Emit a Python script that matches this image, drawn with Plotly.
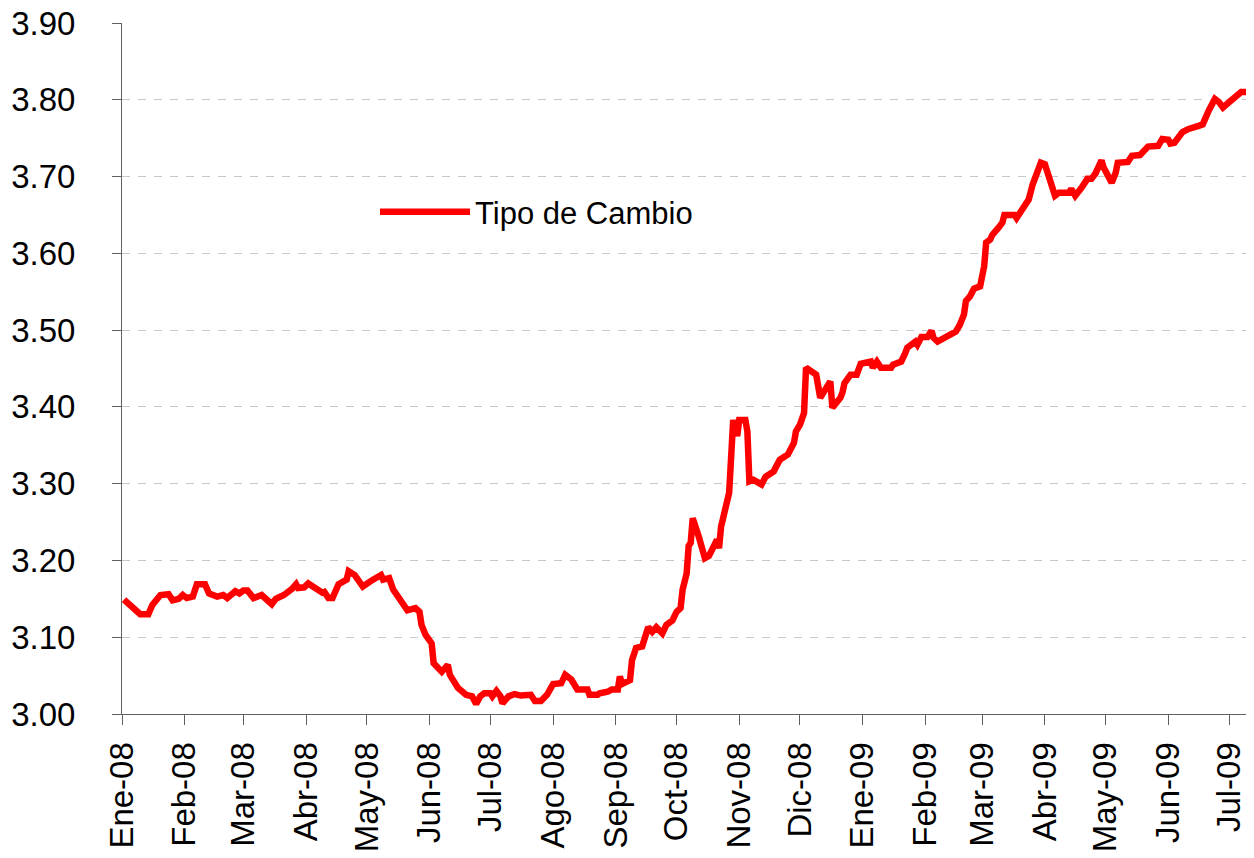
import plotly.graph_objects as go

# ---- data: Tipo de Cambio (S/. por US$) ----
dates = [
    "2008-01-02", "2008-01-05", "2008-01-07", "2008-01-10", "2008-01-14", "2008-01-16",
    "2008-01-20", "2008-01-24", "2008-01-26", "2008-01-29", "2008-01-31", "2008-02-02",
    "2008-02-05", "2008-02-07", "2008-02-11", "2008-02-13", "2008-02-17", "2008-02-20",
    "2008-02-22", "2008-02-26", "2008-02-28", "2008-03-01", "2008-03-03", "2008-03-06",
    "2008-03-10", "2008-03-12", "2008-03-15", "2008-03-17", "2008-03-21", "2008-03-25",
    "2008-03-27", "2008-03-28", "2008-03-31", "2008-04-02", "2008-04-05", "2008-04-09",
    "2008-04-10", "2008-04-12", "2008-04-14", "2008-04-17", "2008-04-21", "2008-04-22",
    "2008-04-25", "2008-04-29", "2008-05-04", "2008-05-08", "2008-05-09", "2008-05-12",
    "2008-05-14", "2008-05-18", "2008-05-21", "2008-05-25", "2008-05-27", "2008-05-28",
    "2008-05-30", "2008-06-02", "2008-06-03", "2008-06-07", "2008-06-10", "2008-06-11",
    "2008-06-15", "2008-06-19", "2008-06-22", "2008-06-24", "2008-06-26", "2008-06-28",
    "2008-07-01", "2008-07-02", "2008-07-04", "2008-07-06", "2008-07-07", "2008-07-10",
    "2008-07-13", "2008-07-16", "2008-07-20", "2008-07-21", "2008-07-23", "2008-07-26",
    "2008-07-29", "2008-08-01", "2008-08-05", "2008-08-07", "2008-08-10", "2008-08-13",
    "2008-08-18", "2008-08-19", "2008-08-23", "2008-08-24", "2008-08-28", "2008-08-30",
    "2008-09-02", "2008-09-03", "2008-09-04", "2008-09-08", "2008-09-09", "2008-09-11",
    "2008-09-14", "2008-09-17", "2008-09-19", "2008-09-21", "2008-09-24", "2008-09-26",
    "2008-09-29", "2008-10-01", "2008-10-03", "2008-10-04", "2008-10-06", "2008-10-07",
    "2008-10-08", "2008-10-09", "2008-10-12", "2008-10-15", "2008-10-17", "2008-10-21",
    "2008-10-22", "2008-10-23", "2008-10-25", "2008-10-27", "2008-10-29", "2008-10-31",
    "2008-11-01", "2008-11-04", "2008-11-05", "2008-11-06", "2008-11-08", "2008-11-12",
    "2008-11-14", "2008-11-18", "2008-11-21", "2008-11-25", "2008-11-28", "2008-11-29",
    "2008-12-01", "2008-12-03", "2008-12-04", "2008-12-09", "2008-12-11", "2008-12-14",
    "2008-12-16", "2008-12-17", "2008-12-21", "2008-12-22", "2008-12-23", "2008-12-26",
    "2008-12-29", "2008-12-31",
    "2009-01-03", "2009-01-05", "2009-01-06", "2009-01-08", "2009-01-10", "2009-01-15",
    "2009-01-16", "2009-01-20", "2009-01-22", "2009-01-23", "2009-01-27", "2009-01-28",
    "2009-01-30", "2009-02-02", "2009-02-04", "2009-02-05", "2009-02-07", "2009-02-10",
    "2009-02-13", "2009-02-16", "2009-02-18", "2009-02-20", "2009-02-21", "2009-02-23",
    "2009-02-25", "2009-02-28", "2009-03-02", "2009-03-03", "2009-03-05", "2009-03-06",
    "2009-03-09", "2009-03-11", "2009-03-12", "2009-03-17", "2009-03-18", "2009-03-20",
    "2009-03-24", "2009-03-26", "2009-03-29", "2009-03-30", "2009-04-01", "2009-04-03",
    "2009-04-06", "2009-04-08", "2009-04-13", "2009-04-14", "2009-04-16", "2009-04-19",
    "2009-04-22", "2009-04-24", "2009-04-26", "2009-04-29", "2009-04-30", "2009-05-04",
    "2009-05-06", "2009-05-07", "2009-05-12", "2009-05-14", "2009-05-18", "2009-05-22",
    "2009-05-27", "2009-05-29", "2009-06-01", "2009-06-02", "2009-06-04", "2009-06-08",
    "2009-06-11", "2009-06-16", "2009-06-18", "2009-06-21", "2009-06-24", "2009-06-26",
    "2009-06-28", "2009-07-02", "2009-07-06", "2009-07-07", "2009-07-12", "2009-07-13",
]

tipo_cambio = [
    3.149, 3.142, 3.138, 3.130, 3.130, 3.142,
    3.155, 3.156, 3.148, 3.150, 3.155, 3.151,
    3.153, 3.169, 3.169, 3.157, 3.153, 3.155,
    3.151, 3.160, 3.157, 3.161, 3.161, 3.151,
    3.155, 3.151, 3.143, 3.150, 3.155, 3.163,
    3.169, 3.164, 3.165, 3.170, 3.164, 3.158,
    3.159, 3.151, 3.151, 3.169, 3.175, 3.186,
    3.181, 3.166, 3.175, 3.181, 3.175, 3.177,
    3.162, 3.146, 3.135, 3.138, 3.133, 3.116,
    3.103, 3.092, 3.066, 3.055, 3.064, 3.051,
    3.034, 3.025, 3.023, 3.013, 3.023, 3.027,
    3.027, 3.023, 3.030, 3.023, 3.014, 3.023,
    3.026, 3.024, 3.026, 3.025, 3.017, 3.017,
    3.025, 3.039, 3.040, 3.051, 3.045, 3.032,
    3.032, 3.025, 3.025, 3.027, 3.029, 3.032,
    3.032, 3.049, 3.039, 3.044, 3.070, 3.086,
    3.088, 3.113, 3.107, 3.113, 3.105, 3.116,
    3.122, 3.133, 3.138, 3.162, 3.183, 3.219,
    3.223, 3.255, 3.231, 3.203, 3.206, 3.227,
    3.216, 3.244, 3.266, 3.288, 3.383, 3.362,
    3.383, 3.383, 3.368, 3.303, 3.305, 3.299,
    3.309, 3.316, 3.331, 3.338, 3.353, 3.368,
    3.377, 3.392, 3.451, 3.442, 3.412, 3.423,
    3.433, 3.399, 3.412, 3.419, 3.431, 3.442,
    3.442, 3.456,
    3.458, 3.459, 3.451, 3.459, 3.451, 3.451,
    3.455, 3.459, 3.470, 3.477, 3.485, 3.481,
    3.491, 3.491, 3.499, 3.490, 3.485, 3.490,
    3.493, 3.498, 3.507, 3.520, 3.538, 3.544,
    3.554, 3.557, 3.583, 3.614, 3.618, 3.624,
    3.633, 3.640, 3.650, 3.650, 3.646, 3.655,
    3.670, 3.690, 3.716, 3.718, 3.716, 3.699,
    3.675, 3.679, 3.679, 3.684, 3.675, 3.685,
    3.697, 3.697, 3.704, 3.721, 3.712, 3.692,
    3.705, 3.718, 3.719, 3.727, 3.728, 3.739,
    3.740, 3.749, 3.748, 3.743, 3.744, 3.758,
    3.762, 3.766, 3.768, 3.786, 3.801, 3.797,
    3.790, 3.799, 3.806, 3.810, 3.810, 3.804,
]

tick_dates = [
    "2008-01-01", "2008-02-01", "2008-03-01", "2008-04-01", "2008-05-01", "2008-06-01",
    "2008-07-01", "2008-08-01", "2008-09-01", "2008-10-01", "2008-11-01", "2008-12-01",
    "2009-01-01", "2009-02-01", "2009-03-01", "2009-04-01", "2009-05-01", "2009-06-01",
    "2009-07-01",
]
tick_labels = [
    "Ene-08", "Feb-08", "Mar-08", "Abr-08", "May-08", "Jun-08", "Jul-08", "Ago-08",
    "Sep-08", "Oct-08", "Nov-08", "Dic-08", "Ene-09", "Feb-09", "Mar-09", "Abr-09",
    "May-09", "Jun-09", "Jul-09",
]
y_ticks = [3.00, 3.10, 3.20, 3.30, 3.40, 3.50, 3.60, 3.70, 3.80, 3.90]

FONT = "Liberation Sans, Arial, sans-serif"

fig = go.Figure()
fig.add_trace(go.Scatter(
    x=dates, y=tipo_cambio, mode="lines", name="Tipo de Cambio",
    line=dict(color="#FF0000", width=6.5, shape="linear"),
))

# the page body has an 8px margin, so the figure is sized to fit inside it
fig.update_layout(
    width=1246, height=842,
    margin=dict(l=114, r=0, t=15, b=136, autoexpand=False),
    paper_bgcolor="white", plot_bgcolor="white",
    font=dict(family=FONT, color="black"),
    showlegend=True,
    legend=dict(
        x=0.2235, y=0.7265, xanchor="left", yanchor="middle",
        bgcolor="white", borderwidth=0,
        font=dict(family=FONT, size=31, color="black"),
        itemwidth=90,
    ),
    # white legend box area in the original (hides the gridline behind the legend)
    shapes=[dict(type="rect", xref="paper", yref="y", x0=0.195, x1=0.53,
                 y0=3.66, y1=3.745, fillcolor="white", line=dict(width=0),
                 layer="between")],
)

fig.update_xaxes(
    type="date", range=["2008-01-01", "2009-07-13 08:00"],
    tickmode="array", tickvals=tick_dates, ticktext=tick_labels,
    tickangle=-90, tickfont=dict(family=FONT, size=33, color="black"),
    ticks="outside", ticklen=10, tickcolor="#606060", tickwidth=1,
    ticklabelstandoff=4, ticklabeloverflow="allow",
    showline=True, linecolor="#606060", linewidth=1,
    showgrid=False, zeroline=False, automargin=False,
)
fig.update_yaxes(
    range=[3.0, 3.9], tickmode="array", tickvals=y_ticks,
    ticktext=[f"{v:.2f}" for v in y_ticks],
    tickfont=dict(family=FONT, size=33, color="black"),
    ticks="outside", ticklen=9, tickcolor="#606060", tickwidth=1,
    ticklabelstandoff=30, ticklabeloverflow="allow",
    showline=True, linecolor="#606060", linewidth=1,
    showgrid=True, gridcolor="#c8c8c8", gridwidth=1, griddash="8px,8px",
    zeroline=False, automargin=False,
)

fig.write_html("out.html")
